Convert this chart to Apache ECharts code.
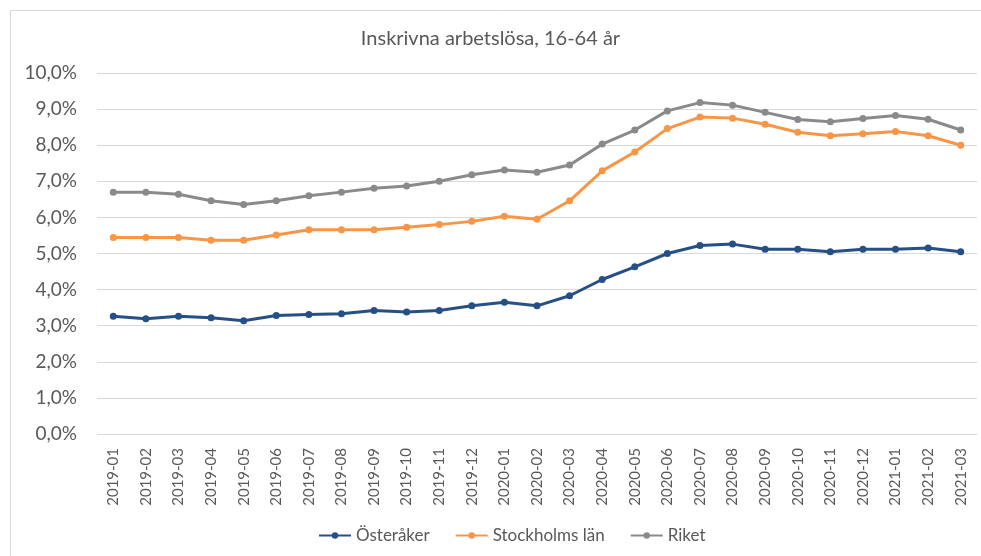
<!DOCTYPE html>
<html>
<head>
<meta charset="utf-8">
<script src="https://cdn.jsdelivr.net/npm/echarts@6/dist/echarts.min.js"></script>
<style>
  html, body { margin: 0; padding: 0; background: #fff; }
  #chart { width: 981px; height: 556px; }
</style>
</head>
<body>
<div id="chart"></div>
<script>
// Months on the x axis
const months = [
  '2019-01', '2019-02', '2019-03', '2019-04', '2019-05', '2019-06', '2019-07', '2019-08', '2019-09',
  '2019-10', '2019-11', '2019-12', '2020-01', '2020-02', '2020-03', '2020-04', '2020-05', '2020-06',
  '2020-07', '2020-08', '2020-09', '2020-10', '2020-11', '2020-12', '2021-01', '2021-02', '2021-03',
]

// Share registered unemployed, percent
const osteraker = [
  3.26, 3.19, 3.26, 3.22, 3.14, 3.28, 3.31, 3.33, 3.42, 3.38, 3.42, 3.55, 3.65, 3.55,
  3.83, 4.28, 4.63, 5.00, 5.22, 5.26, 5.12, 5.12, 5.05, 5.12, 5.12, 5.15, 5.05,
]
const stockholm = [
  5.44, 5.44, 5.44, 5.37, 5.37, 5.51, 5.66, 5.66, 5.66, 5.73, 5.80, 5.89, 6.03, 5.95,
  6.46, 7.29, 7.81, 8.46, 8.78, 8.75, 8.58, 8.36, 8.26, 8.32, 8.38, 8.26, 8.00,
]
const riket = [
  6.70, 6.70, 6.64, 6.46, 6.36, 6.46, 6.60, 6.70, 6.81, 6.87, 7.00, 7.18, 7.31, 7.25,
  7.45, 8.03, 8.42, 8.95, 9.18, 9.11, 8.91, 8.71, 8.65, 8.74, 8.82, 8.72, 8.42,
]

const seriesNames = ['Österåker', 'Stockholms län', 'Riket']
const seriesColors = ['#264f86', '#f79646', '#8a8a8a']

const fontFamily = 'Lato, "Open Sans", sans-serif'
const textColor = '#595959'

const chart = echarts.init(document.getElementById('chart'), null, { renderer: 'canvas' })

const makeSeries = (name, data, color) => ({
  name,
  type: 'line',
  data,
  symbol: 'circle',
  symbolSize: 7,
  lineStyle: { color, width: 3 },
  itemStyle: { color },
  emphasis: { disabled: true },
})

chart.setOption({
  backgroundColor: '#fff',
  animation: false,
  graphic: [
    {
      // chart frame, only top and left edges fall inside the picture
      type: 'rect',
      shape: { x: 10.5, y: 10.5, width: 990, height: 560 },
      style: { fill: 'none', stroke: '#d9d9d9', lineWidth: 1 },
      silent: true,
    },
  ],
  title: {
    text: 'Inskrivna arbetslösa, 16-64 år',
    left: 'center',
    top: 24,
    textStyle: { color: textColor, fontFamily, fontSize: 20, fontWeight: 'normal' },
  },
  legend: {
    data: seriesNames,
    bottom: 7,
    left: 313,
    itemWidth: 32,
    itemHeight: 8,
    itemGap: 25,
    textStyle: { color: textColor, fontFamily, fontSize: 17 },
  },
  grid: {
    left: 97,
    right: 4,
    top: 73,
    bottom: 122,
    containLabel: false,
  },
  xAxis: {
    type: 'category',
    data: months,
    boundaryGap: true,
    axisLine: { show: false },
    axisTick: { show: false },
    axisLabel: {
      rotate: 90,
      margin: 14,
      color: textColor,
      fontFamily,
      fontSize: 15,
      interval: 0,
    },
  },
  yAxis: {
    type: 'value',
    min: 0,
    max: 10,
    interval: 1,
    axisLine: { show: false },
    axisTick: { show: false },
    axisLabel: {
      color: textColor,
      fontFamily,
      fontSize: 19,
      margin: 20,
      formatter: (v) => v.toFixed(1).replace('.', ',') + '%',
    },
    splitLine: { lineStyle: { color: '#d9d9d9', width: 1 } },
  },
  series: [
    makeSeries(seriesNames[0], osteraker, seriesColors[0]),
    makeSeries(seriesNames[1], stockholm, seriesColors[1]),
    makeSeries(seriesNames[2], riket, seriesColors[2]),
  ],
})
</script>
</body>
</html>
